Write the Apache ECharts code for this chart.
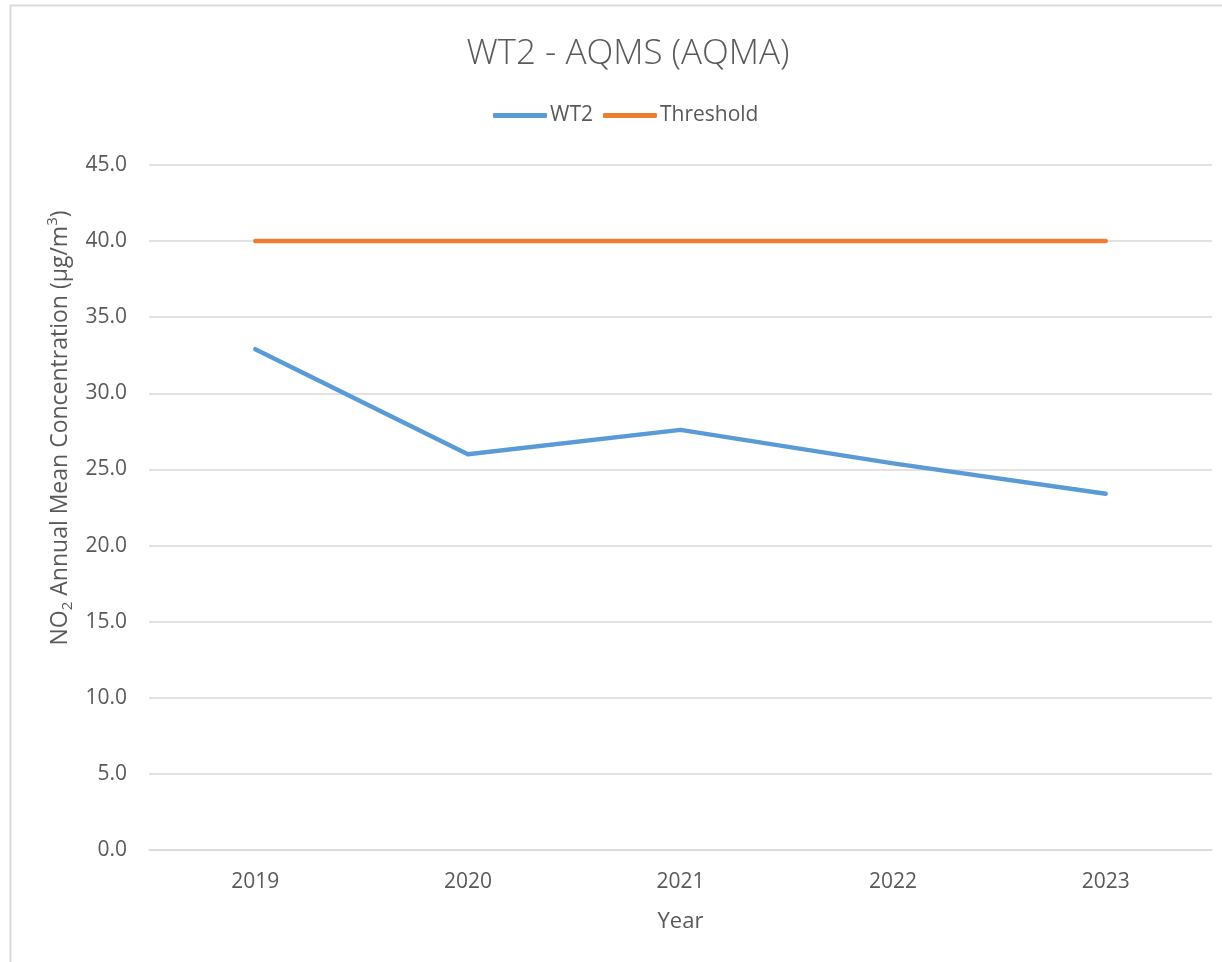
<!DOCTYPE html>
<html>
<head>
<meta charset="utf-8">
<script src="https://cdn.jsdelivr.net/npm/echarts@6/dist/echarts.min.js"></script>
<style>
  html, body { margin: 0; padding: 0; background: #fff; }
  #chart { width: 1222px; height: 962px; }
</style>
</head>
<body>
<div id="chart"></div>
<script>
const years = ['2019', '2020', '2021', '2022', '2023'];
const wt2Values = [32.9, 26.0, 27.6, 25.4, 23.4];
const thresholdValues = [40, 40, 40, 40, 40];
const yTicks = { min: 0, max: 45, interval: 5 };

const textColor = '#595959';
const fontFamily = '"Open Sans", "Noto Sans", sans-serif';

const chart = echarts.init(document.getElementById('chart'));
chart.setOption({
  backgroundColor: '#ffffff',
  animation: false,
  textStyle: { fontFamily: fontFamily, color: textColor },
  graphic: [
    {
      type: 'rect',
      shape: { x: 10.5, y: 5.5, width: 1400, height: 1100 },
      style: { fill: 'none', stroke: '#d9d9d9', lineWidth: 2 },
      silent: true
    },
    {
      type: 'text',
      x: 60,
      y: 428,
      rotation: Math.PI / 2,
      style: {
        text: '{n|NO}{sub|2}{n| Annual Mean Concentration (µg/m}{sup|3}{n|)}',
        align: 'center',
        verticalAlign: 'middle',
        fill: textColor,
        fontFamily: fontFamily,
        rich: {
          n: { fontSize: 23, lineHeight: 30, verticalAlign: 'middle', fill: textColor, fontFamily: fontFamily },
          sub: { fontSize: 15, lineHeight: 30, verticalAlign: 'bottom', fill: textColor, fontFamily: fontFamily },
          sup: { fontSize: 15, lineHeight: 30, verticalAlign: 'top', fill: textColor, fontFamily: fontFamily }
        }
      }
    }
  ],
  title: {
    text: 'WT2 - AQMS (AQMA)',
    left: 623,
    top: 32,
    textAlign: 'center',
    textStyle: { fontSize: 35, fontWeight: 300, color: textColor, fontFamily: fontFamily }
  },
  legend: {
    left: 488,
    top: 100,
    itemWidth: 54,
    itemHeight: 5,
    itemGap: 10,
    icon: 'roundRect',
    textStyle: { fontSize: 21, color: textColor, fontFamily: fontFamily, padding: [0, 0, 0, -2] },
    data: ['WT2', 'Threshold']
  },
  grid: { left: 149, right: 10, top: 165, bottom: 112, containLabel: false },
  xAxis: {
    type: 'category',
    data: years,
    boundaryGap: true,
    name: 'Year',
    nameLocation: 'middle',
    nameGap: 61,
    nameTextStyle: { fontSize: 22, color: textColor, fontFamily: fontFamily },
    axisLine: { show: true, lineStyle: { color: '#d9d9d9', width: 1.5 } },
    axisTick: { show: false },
    axisLabel: { fontSize: 21, color: textColor, margin: 22, fontFamily: fontFamily }
  },
  yAxis: {
    type: 'value',
    min: yTicks.min,
    max: yTicks.max,
    interval: yTicks.interval,
    axisLine: { show: false },
    axisTick: { show: false },
    splitLine: { lineStyle: { color: '#d9d9d9', width: 1.5 } },
    axisLabel: {
      fontSize: 21,
      color: textColor,
      margin: 22,
      fontFamily: fontFamily,
      formatter: v => v.toFixed(1)
    }
  },
  series: [
    {
      name: 'WT2',
      type: 'line',
      data: wt2Values,
      showSymbol: false,
      symbol: 'none',
      color: '#5B9BD5',
      lineStyle: { width: 4.5, color: '#5B9BD5', cap: 'round', join: 'round' },
      z: 3
    },
    {
      name: 'Threshold',
      type: 'line',
      data: thresholdValues,
      showSymbol: false,
      symbol: 'none',
      color: '#ED7D31',
      lineStyle: { width: 4.5, color: '#ED7D31', cap: 'round', join: 'round' },
      z: 2
    }
  ]
});
</script>
</body>
</html>
